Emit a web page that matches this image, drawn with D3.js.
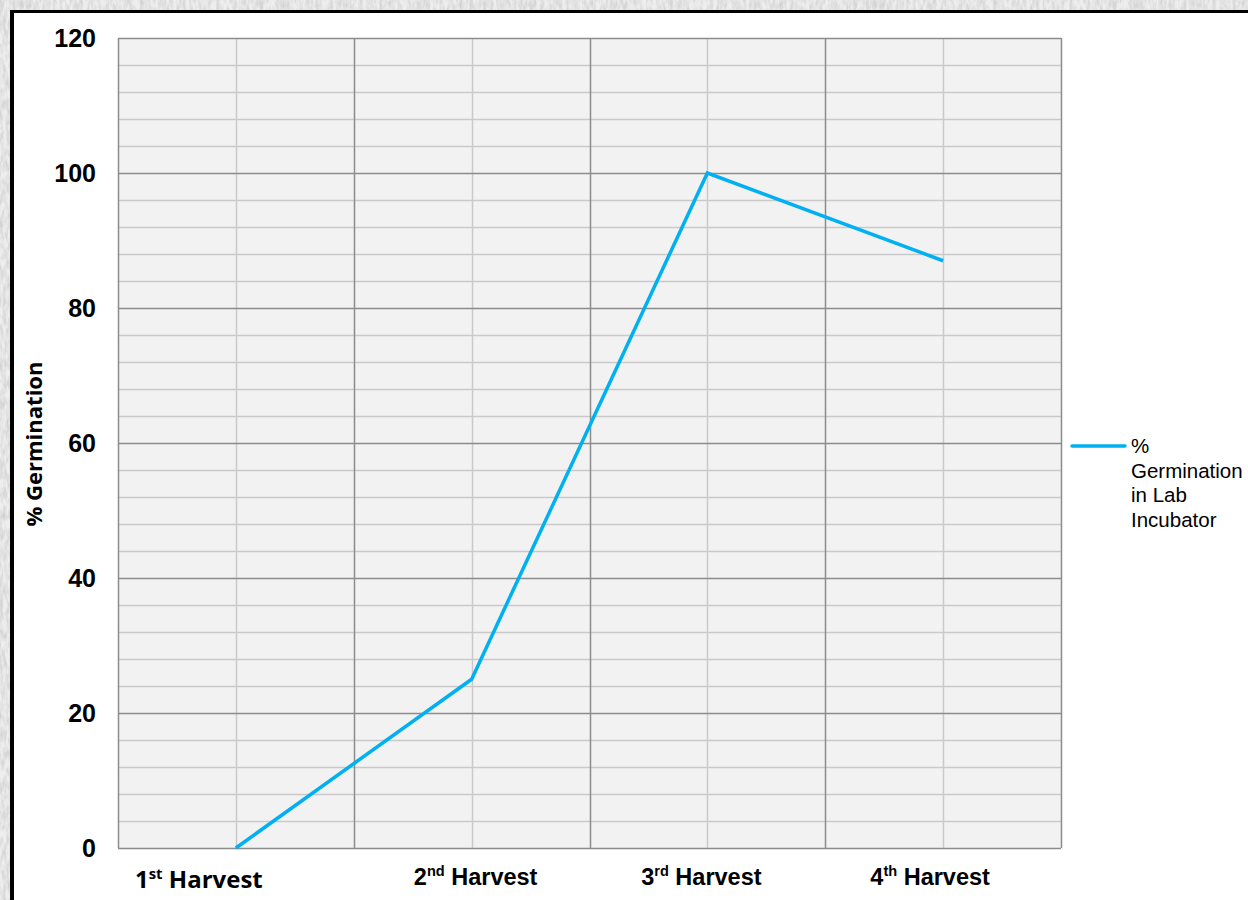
<!DOCTYPE html>
<html>
<head>
<meta charset="utf-8">
<script src="https://cdn.jsdelivr.net/npm/d3@7"></script>
<style>
  html, body { margin: 0; padding: 0; background: #fff; }
  svg { display: block; }
</style>
</head>
<body>
<script>
// Germination results per harvest
const harvests = ["1st", "2nd", "3rd", "4th"];
const harvestSup = ["st", "nd", "rd", "th"];
const harvestNum = ["1", "2", "3", "4"];
const germination = [0, 25, 100, 87];
const yTicks = [0, 20, 40, 60, 80, 100, 120];
const seriesName = ["%", "Germination", "in Lab", "Incubator"];

const W = 1248, H = 900;
const plot = { left: 118, right: 1061, top: 38, bottom: 848 };

const svg = d3.select("body").append("svg").attr("width", W).attr("height", H);

// textured frame behind the white card
const defs = svg.append("defs");
const f = defs.append("filter").attr("id", "grain").attr("x", 0).attr("y", 0).attr("width", "100%").attr("height", "100%");
f.append("feTurbulence").attr("type", "fractalNoise").attr("baseFrequency", "0.3 0.1").attr("numOctaves", 3).attr("seed", 4).attr("result", "n");
f.append("feColorMatrix").attr("in", "n").attr("type", "matrix")
  .attr("values", "0 0 0 0 0.6  0 0 0 0 0.6  0 0 0 0 0.6  0 0 0 -1.6 1.1");
svg.append("rect").attr("width", W).attr("height", H).attr("fill", "#eeeeee");
svg.append("rect").attr("width", W).attr("height", H).attr("filter", "url(#grain)");

// white card with heavy black top/left border
svg.append("rect").attr("x", 12).attr("y", 12).attr("width", W - 12).attr("height", H - 12).attr("fill", "#fff");
svg.append("line").attr("x1", 12).attr("x2", 12).attr("y1", 10).attr("y2", H).attr("stroke", "#000").attr("stroke-width", 4);
svg.append("line").attr("x1", 10).attr("x2", W).attr("y1", 11.5).attr("y2", 11.5).attr("stroke", "#000").attr("stroke-width", 3);

const x = d3.scaleBand().domain(harvests).range([plot.left, plot.right]).padding(0);
const y = d3.scaleLinear().domain([0, 120]).range([plot.bottom, plot.top]);
const cx = d => x(d) + x.bandwidth() / 2;

const g = svg.append("g");
g.append("rect").attr("x", plot.left).attr("y", plot.top)
  .attr("width", plot.right - plot.left).attr("height", plot.bottom - plot.top).attr("fill", "#f2f2f2");

// minor horizontal grid (every 4)
const minor = d3.range(0, 121, 4).filter(v => v % 20 !== 0);
g.selectAll(".hminor").data(minor).join("line")
  .attr("x1", plot.left).attr("x2", plot.right)
  .attr("y1", d => Math.round(y(d)) + 0.5).attr("y2", d => Math.round(y(d)) + 0.5)
  .attr("stroke", "#c9c9c9").attr("stroke-width", 1.5);

// vertical lines through category centres
g.selectAll(".vminor").data(harvests).join("line")
  .attr("x1", d => Math.round(cx(d)) + 0.5).attr("x2", d => Math.round(cx(d)) + 0.5)
  .attr("y1", plot.top).attr("y2", plot.bottom)
  .attr("stroke", "#c9c9c9").attr("stroke-width", 1.5);

// major horizontal grid
g.selectAll(".hmajor").data(yTicks).join("line")
  .attr("x1", plot.left).attr("x2", plot.right)
  .attr("y1", d => Math.round(y(d)) + 0.5).attr("y2", d => Math.round(y(d)) + 0.5)
  .attr("stroke", "#8c8c8c").attr("stroke-width", 1.5);

// category boundaries
const bounds = harvests.map(d => x(d)).concat([plot.right]);
g.selectAll(".vmajor").data(bounds).join("line")
  .attr("x1", d => Math.round(d) + 0.5).attr("x2", d => Math.round(d) + 0.5)
  .attr("y1", plot.top).attr("y2", plot.bottom)
  .attr("stroke", "#8c8c8c").attr("stroke-width", 1.5);

// y tick labels
g.selectAll(".ytick").data(yTicks).join("text")
  .attr("x", 96).attr("y", d => y(d))
  .attr("dy", "0.36em")
  .attr("text-anchor", "end")
  .attr("font-family", "Liberation Sans, Arial, sans-serif")
  .attr("font-weight", "bold").attr("font-size", 25)
  .attr("fill", "#000")
  .text(d => d);

// y axis title
svg.append("text")
  .attr("transform", `translate(42,444) rotate(-90)`)
  .attr("text-anchor", "middle")
  .attr("font-family", "Open Sans, sans-serif")
  .attr("font-weight", "bold").attr("font-size", 22)
  .attr("fill", "#000")
  .text("% Germination");

// category labels (label anchors nudged as laid out on the card)
const labelDx = [-37, 4, -6, -13];
const labelDy = [888, 885, 885, 885];
const labelFont = ["Open Sans, sans-serif", "Liberation Sans, Arial, sans-serif", "Liberation Sans, Arial, sans-serif", "Liberation Sans, Arial, sans-serif"];
const labelSize = [24, 23.5, 23.5, 23.5];
harvests.forEach((h, i) => {
  const t = svg.append("text")
    .attr("x", cx(h) + labelDx[i]).attr("y", labelDy[i])
    .attr("text-anchor", "middle")
    .attr("font-family", labelFont[i])
    .attr("font-weight", "bold").attr("font-size", labelSize[i])
    .attr("fill", "#000");
  t.append("tspan").text(harvestNum[i]);
  t.append("tspan").attr("dy", -9).attr("font-size", labelSize[i] * 0.62).text(harvestSup[i]);
  t.append("tspan").attr("dy", 9).text(" Harvest");
});

// series line
const line = d3.line().x((d, i) => cx(harvests[i])).y(d => y(d));
g.append("path").datum(germination)
  .attr("d", line)
  .attr("fill", "none")
  .attr("stroke", "#00b0f0")
  .attr("stroke-width", 3.5)
  .attr("stroke-linejoin", "miter");

// legend
const lg = svg.append("g");
lg.append("line").attr("x1", 1072).attr("x2", 1125).attr("y1", 446).attr("y2", 446)
  .attr("stroke", "#00b0f0").attr("stroke-width", 3.5).attr("stroke-linecap", "round");
lg.append("text")
  .attr("font-family", "Liberation Sans, Arial, sans-serif")
  .attr("font-size", 20.5).attr("fill", "#000")
  .selectAll("tspan").data(seriesName).join("tspan")
  .attr("x", 1131)
  .attr("y", (d, i) => 453 + i * 24.7)
  .text(d => d);
</script>
</body>
</html>
